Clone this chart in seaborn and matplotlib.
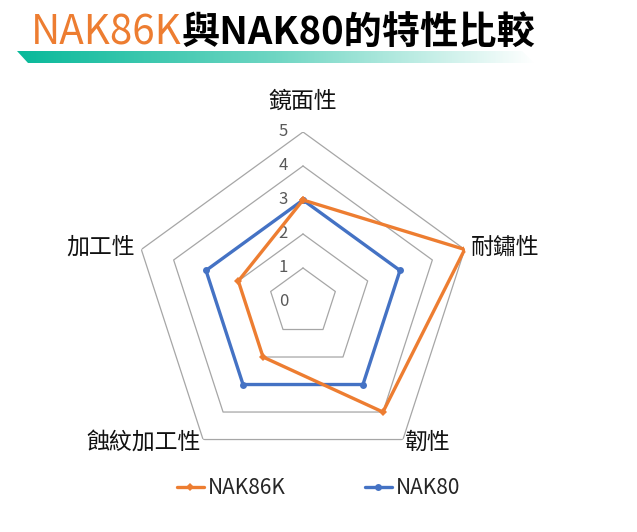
import numpy as np
import pandas as pd
import matplotlib
matplotlib.use("Agg")
import matplotlib.pyplot as plt
import matplotlib.transforms as mtransforms
from matplotlib.patches import Polygon
from matplotlib.colors import LinearSegmentedColormap
import seaborn as sns

sns.set_theme(style="white")
plt.rcParams["font.family"] = ["Noto Sans CJK TC", "DejaVu Sans"]

# 資料
categories = ["鏡面性", "耐鏽性", "韌性", "蝕紋加工性", "加工性"]
nak86k = [3, 5, 4, 2, 2]
nak80 = [3, 3, 3, 3, 3]
rings = [1, 2, 3, 4, 5]
tick_values = [0, 1, 2, 3, 4, 5]

ORANGE = "#ED7D31"
BLUE = "#4472C4"
GRID = "#A6A6A6"

W, H = 637, 532
fig = plt.figure(figsize=(W / 100, H / 100), dpi=100)

# 雷達圖座標軸 (中心約 303,302，半徑 170 px)
cx, cy, R = 303, 302, 170
ax = fig.add_axes([(cx - R) / W, (H - cy - R) / H, 2 * R / W, 2 * R / H], projection="polar")
ax.set_theta_zero_location("N")
ax.set_theta_direction(-1)
ax.set_ylim(0, 5)
ax.grid(False)
ax.spines["polar"].set_visible(False)
ax.set_xticks([])
ax.set_yticks([])
ax.patch.set_alpha(0)

n = len(categories)
theta = np.linspace(0, 2 * np.pi, n, endpoint=False)
theta_closed = np.append(theta, theta[0] + 2 * np.pi)

# 五邊形格線
for r in rings:
    ax.plot(theta_closed, [r] * (n + 1), color=GRID, lw=0.9, zorder=1)

# 資料線
df = pd.DataFrame({
    "theta": np.concatenate([theta_closed, theta_closed]),
    "value": nak86k + [nak86k[0]] + nak80 + [nak80[0]],
    "series": ["NAK86K"] * (n + 1) + ["NAK80"] * (n + 1),
})
sns.lineplot(data=df[df.series == "NAK80"], x="theta", y="value", sort=False,
             estimator=None, color=BLUE, lw=2.4, marker="o", markersize=5,
             markeredgewidth=0, ax=ax, label="NAK80", zorder=3)
sns.lineplot(data=df[df.series == "NAK86K"], x="theta", y="value", sort=False,
             estimator=None, color=ORANGE, lw=2.4, marker="D", markersize=4.5,
             markeredgewidth=0, ax=ax, label="NAK86K", zorder=4)
ax.set_xlabel("")
ax.set_ylabel("")
ax.set_ylim(0, 5)
if ax.get_legend():
    ax.get_legend().remove()

# 刻度數字
off = mtransforms.offset_copy(ax.transData, fig=fig, x=-15, y=0, units="dots")
for v in tick_values:
    ax.text(0, v, str(v), transform=off, ha="right", va="center",
            fontsize=12, color="#595959")

# 類別標籤
label_pos = [
    (5.9, "center", "center"),
    (5.2, "left", "center"),
    (5.1, "left", "center"),
    (5.1, "right", "center"),
    (5.2, "right", "center"),
]
for t, name, (r, ha, va) in zip(theta, categories, label_pos):
    ax.text(t, r, name, ha=ha, va=va, fontsize=16.5, color="#111111")

# 圖例
handles, labels = ax.get_legend_handles_labels()
order = [labels.index("NAK86K"), labels.index("NAK80")]
fig.legend([handles[i] for i in order], [labels[i] for i in order],
           loc="center", bbox_to_anchor=(0.5, 1 - 488 / H), ncol=2,
           frameon=False, fontsize=15, handlelength=1.3, handletextpad=0.2,
           columnspacing=3.8)

# 標題下方漸層條
bar_ax = fig.add_axes([0, 0, 1, 1])
bar_ax.set_xlim(0, W)
bar_ax.set_ylim(H, 0)
bar_ax.axis("off")
bar_ax.patch.set_alpha(0)
cmap = LinearSegmentedColormap.from_list("teal", ["#09B99A", "#6FD6C3", "#FFFFFF"])
grad = np.linspace(0, 1, 256).reshape(1, -1)
im = bar_ax.imshow(grad, cmap=cmap, extent=[17, 535, 63, 51], aspect="auto", zorder=1)
clip = Polygon([[17, 51], [522, 51], [534, 63], [28, 63]], closed=True,
               transform=bar_ax.transData, facecolor="none", edgecolor="none")
bar_ax.add_patch(clip)
im.set_clip_path(clip)

# 標題
fig.canvas.draw()
renderer = fig.canvas.get_renderer()
t1 = fig.text(31 / W, 1 - 33 / H, "NAK86K", color=ORANGE, fontsize=29,
              ha="left", va="center")
bb = t1.get_window_extent(renderer=renderer)
fig.text(bb.x1 / W, 1 - 33 / H, "與NAK80的特性比較", color="black", fontsize=27.5,
         fontweight="bold", ha="left", va="center")

fig.savefig("out.png", dpi=100)
